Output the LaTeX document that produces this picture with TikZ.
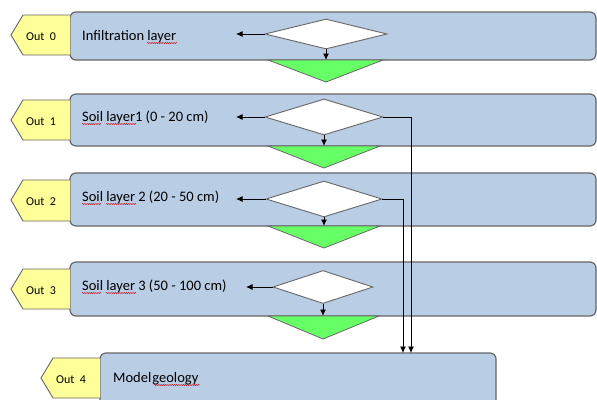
\documentclass[tikz,border=0pt]{standalone}
\usepackage{fontspec}
\setmainfont{Carlito}
\usetikzlibrary{shapes.geometric,arrows.meta,decorations.pathmorphing}
\definecolor{boxblue}{HTML}{B9CDE5}
\definecolor{boxedge}{HTML}{666666}
\definecolor{tagyellow}{HTML}{FFFF99}
\definecolor{trigreen}{HTML}{66FF66}
\tikzset{
  layerbox/.style={fill=boxblue, draw=boxedge, line width=1.2pt, rounded corners=6pt},
  outtag/.style={fill=tagyellow, draw=boxedge, line width=0.9pt},
  outtext/.style={font=\fontsize{12}{14}\selectfont, anchor=base west, inner sep=0pt},
  laytext/.style={font=\fontsize{14.5}{17}\selectfont, anchor=base west, inner sep=0pt},
  decide/.style={diamond, draw=boxedge, fill=white, line width=0.9pt, inner sep=0pt},
  greentri/.style={fill=trigreen, draw=boxedge, line width=0.8pt},
  conn/.style={draw=black, line width=0.8pt, -{Latex[length=6.5pt,width=6pt]}},
  spell/.style={draw=red!80!black, line width=0.4pt, decorate, decoration={snake, amplitude=0.6pt, segment length=2.2pt}}
}
\begin{document}
\begin{tikzpicture}[x=1pt,y=-1pt]
\useasboundingbox (0,0) rectangle (597,399);
\clip (0,0) rectangle (597,399);
% layer boxes
\draw[layerbox] (70,12) rectangle (596,60);
\draw[layerbox] (70,94) rectangle (596,146);
\draw[layerbox] (70,173) rectangle (596,226);
\draw[layerbox] (70,262) rectangle (596,316);
\draw[layerbox] (100,353) rectangle (496,420);
% out tags
\draw[outtag] (70,15) -- (23,15) -- (11,35) -- (23,55) -- (70,55);
\draw[outtag] (70,100) -- (23,100) -- (11,120) -- (23,140) -- (70,140);
\draw[outtag] (70,180) -- (23,180) -- (11,200) -- (23,221) -- (70,221);
\draw[outtag] (70,269) -- (23,269) -- (11,289) -- (23,309) -- (70,309);
\draw[outtag] (100,358) -- (53,358) -- (41,378) -- (53,398) -- (100,398);
\node[outtext] (o0) at (26,40) {Out\ \ 0};
\node[outtext] (o1) at (26,125) {Out\ \ 1};
\node[outtext] (o2) at (26,205) {Out\ \ 2};
\node[outtext] (o3) at (26,294) {Out\ \ 3};
\node[outtext] (o4) at (56,383) {Out\ \ 4};
% layer texts
\node[laytext] (t0) at (82,40) {Infiltration layer};
\node[laytext] (t1) at (82,121) {Soil layer1 (0 - 20 cm)};
\node[laytext] (t2) at (82,201) {Soil layer 2 (20 - 50 cm)};
\node[laytext] (t3) at (82,290) {Soil layer 3 (50 - 100 cm)};
\node[laytext] (t4) at (113,382) {Model\hspace{1pt}geology};
% spell-check underlines
\draw[spell] (147,43) -- (177,43);
\draw[spell] (82,124) -- (101,124);
\draw[spell] (106,124) -- (136,124);
\draw[spell] (82,204) -- (101,204);
\draw[spell] (106,204) -- (136,204);
\draw[spell] (82,293) -- (101,293);
\draw[spell] (106,293) -- (136,293);
\draw[spell] (154,385) -- (200,385);
% green triangles
\draw[greentri] (268,60) -- (383,60) -- (326,82) -- cycle;
\draw[greentri] (268,146) -- (380,146) -- (324,168) -- cycle;
\draw[greentri] (268,226) -- (380,226) -- (324,248) -- cycle;
\draw[greentri] (268,316) -- (379,316) -- (323,339) -- cycle;
% decisions
\node[decide, minimum width=122pt, minimum height=30pt] (d0) at (326,34) {};
\node[decide, minimum width=118pt, minimum height=36pt] (d1) at (324,117) {};
\node[decide, minimum width=116pt, minimum height=36pt] (d2) at (324,199) {};
\node[decide, minimum width=100pt, minimum height=33pt] (d3) at (323,287) {};
% coordinates
\coordinate (l0) at (236,34);
\coordinate (l1) at (236,117);
\coordinate (l2) at (236,199);
\coordinate (l3) at (246,287);
\coordinate (b0) at (326,60);
\coordinate (b1) at (324,146);
\coordinate (b2) at (324,226);
\coordinate (b3) at (323,316);
\coordinate (k1) at (411,117);
\coordinate (k2) at (403,199);
\coordinate (g1) at (411,353);
\coordinate (g2) at (403,353);
% connectors
\draw[conn] (d0.west) -- (l0);
\draw[conn] (d1.west) -- (l1);
\draw[conn] (d2.west) -- (l2);
\draw[conn] (d3.west) -- (l3);
\draw[conn] (d0.south) -- (b0);
\draw[conn] (d1.south) -- (b1);
\draw[conn] (d2.south) -- (b2);
\draw[conn] (d3.south) -- (b3);
\draw[conn] (d1.east) -- (k1) -- (g1);
\draw[conn] (d2.east) -- (k2) -- (g2);
\end{tikzpicture}
\end{document}
